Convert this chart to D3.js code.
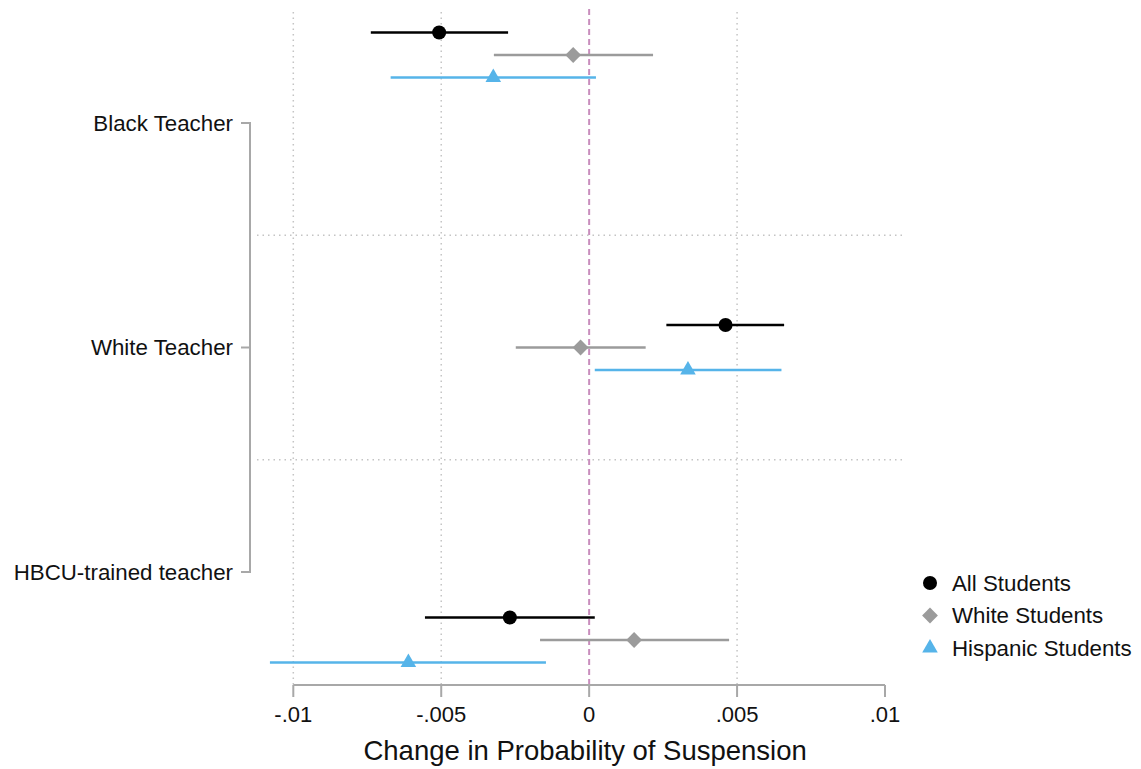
<!DOCTYPE html>
<html>
<head>
<meta charset="utf-8">
<script src="https://cdn.jsdelivr.net/npm/d3@7"></script>
<style>
  body { margin: 0; background: #fff; }
  text { font-family: "Liberation Sans", Arial, Helvetica, sans-serif; fill: #111; }
</style>
</head>
<body>
<svg id="chart" width="1141" height="769"></svg>
<script>
// values
var groups = ["Black Teacher", "White Teacher", "HBCU-trained teacher"];
var seriesNames = ["All Students", "White Students", "Hispanic Students"];
var seriesColors = ["#000000", "#9b9b9b", "#56b4e9"];

var estAll   = [-0.00507,  0.00461, -0.00268];
var loAll    = [-0.00738,  0.00261, -0.00555];
var hiAll    = [-0.00274,  0.00659,  0.00019];
var estWhite = [-0.00054, -0.00029,  0.00152];
var loWhite  = [-0.00322, -0.00248, -0.00166];
var hiWhite  = [ 0.00216,  0.00191,  0.00473];
var estHisp  = [-0.00324,  0.00334, -0.00611];
var loHisp   = [-0.00671,  0.00019, -0.01079];
var hiHisp   = [ 0.00023,  0.00650, -0.00146];

var xTicks = [-0.01, -0.005, 0, 0.005, 0.01];
var xTickLabels = ["-.01", "-.005", "0", ".005", ".01"];
var gridTicks = [-0.01, -0.005, 0.005];

var svg = d3.select("#chart");

var x = d3.scaleLinear().domain([-0.01, 0.01]).range([293.3, 885]);
// label positions and marker positions are spaced differently (coefplot style)
var yLabel = d3.scaleLinear().domain([0, 2]).range([123, 572]);
var yMark = d3.scaleLinear().domain([0, 2]).range([55, 640]);
var yOff = d3.scalePoint().domain(seriesNames).range([-22.5, 22.5]);

var axisY = 685;

// rows for the marks
var rows = [];
var ests = [estAll, estWhite, estHisp], los = [loAll, loWhite, loHisp], his = [hiAll, hiWhite, hiHisp];
groups.forEach(function(g, gi) {
  seriesNames.forEach(function(s, si) {
    rows.push({ group: gi, series: s, si: si, est: ests[si][gi], lo: los[si][gi], hi: his[si][gi] });
  });
});

// vertical dotted gridlines
svg.selectAll(".vgrid").data(gridTicks).enter().append("line")
  .attr("x1", function(d) { return x(d); }).attr("x2", function(d) { return x(d); })
  .attr("y1", 12).attr("y2", axisY)
  .attr("stroke", "#c4c4c4").attr("stroke-width", 1.5)
  .attr("stroke-dasharray", "1.5,4");

// horizontal dotted gridlines between groups
svg.selectAll(".hgrid").data([0.5, 1.5]).enter().append("line")
  .attr("x1", 257).attr("x2", 903)
  .attr("y1", function(d) { return yLabel(d); }).attr("y2", function(d) { return yLabel(d); })
  .attr("stroke", "#c4c4c4").attr("stroke-width", 1.5)
  .attr("stroke-dasharray", "1.5,4");

// zero reference line
svg.append("line")
  .attr("x1", x(0)).attr("x2", x(0)).attr("y1", 9).attr("y2", axisY)
  .attr("stroke", "#c98dbd").attr("stroke-width", 2)
  .attr("stroke-dasharray", "6,4");

// x axis
var xAxis = svg.append("g").attr("transform", "translate(0," + axisY + ")");
xAxis.append("line").attr("x1", x(-0.01)).attr("x2", x(0.01))
  .attr("stroke", "#a8a8a8").attr("stroke-width", 2);
xAxis.selectAll(".xt").data(xTicks).enter().append("line")
  .attr("x1", function(d) { return x(d); }).attr("x2", function(d) { return x(d); })
  .attr("y1", 0).attr("y2", 12)
  .attr("stroke", "#a8a8a8").attr("stroke-width", 2);
xAxis.selectAll(".xl").data(xTicks).enter().append("text")
  .attr("x", function(d) { return x(d); }).attr("y", 37)
  .attr("text-anchor", "middle").attr("font-size", 22)
  .text(function(d, i) { return xTickLabels[i]; });

svg.append("text").attr("x", x(0) - 4).attr("y", 760)
  .attr("text-anchor", "middle").attr("font-size", 27.5)
  .text("Change in Probability of Suspension");

// y axis bracket
var yAxis = svg.append("g");
yAxis.append("line").attr("x1", 250).attr("x2", 250)
  .attr("y1", yLabel(0)).attr("y2", yLabel(2))
  .attr("stroke", "#a8a8a8").attr("stroke-width", 2);
yAxis.selectAll(".yt").data(groups).enter().append("line")
  .attr("x1", 241).attr("x2", 251)
  .attr("y1", function(d, i) { return yLabel(i); }).attr("y2", function(d, i) { return yLabel(i); })
  .attr("stroke", "#a8a8a8").attr("stroke-width", 2);
yAxis.selectAll(".yl").data(groups).enter().append("text")
  .attr("x", 233).attr("y", function(d, i) { return yLabel(i); })
  .attr("dy", "0.35em").attr("text-anchor", "end").attr("font-size", 22.3)
  .text(function(d) { return d; });

// symbols
var symbolFor = [
  d3.symbol().type(d3.symbolCircle).size(155),
  d3.symbol().type(d3.symbolSquare).size(125),
  d3.symbol().type(d3.symbolTriangle).size(105)
];
var rotFor = [0, 45, 0];

// confidence intervals
svg.selectAll(".ci").data(rows).enter().append("line")
  .attr("x1", function(d) { return x(d.lo); }).attr("x2", function(d) { return x(d.hi); })
  .attr("y1", function(d) { return yMark(d.group) + yOff(d.series); })
  .attr("y2", function(d) { return yMark(d.group) + yOff(d.series); })
  .attr("stroke", function(d) { return seriesColors[d.si]; })
  .attr("stroke-width", 2.7);

// point estimates
svg.selectAll(".pt").data(rows).enter().append("path")
  .attr("d", function(d) { return symbolFor[d.si](); })
  .attr("transform", function(d) {
    return "translate(" + x(d.est) + "," + (yMark(d.group) + yOff(d.series)) + ") rotate(" + rotFor[d.si] + ")";
  })
  .attr("fill", function(d) { return seriesColors[d.si]; });

// legend
var legend = svg.append("g");
var legY = [583, 615.5, 648];
legend.selectAll("path").data(seriesNames).enter().append("path")
  .attr("d", function(d, i) { return symbolFor[i](); })
  .attr("transform", function(d, i) { return "translate(930," + legY[i] + ") rotate(" + rotFor[i] + ")"; })
  .attr("fill", function(d, i) { return seriesColors[i]; });
legend.selectAll("text").data(seriesNames).enter().append("text")
  .attr("x", 952).attr("y", function(d, i) { return legY[i]; })
  .attr("dy", "0.35em").attr("font-size", 22.3)
  .text(function(d) { return d; });
</script>
</body>
</html>
